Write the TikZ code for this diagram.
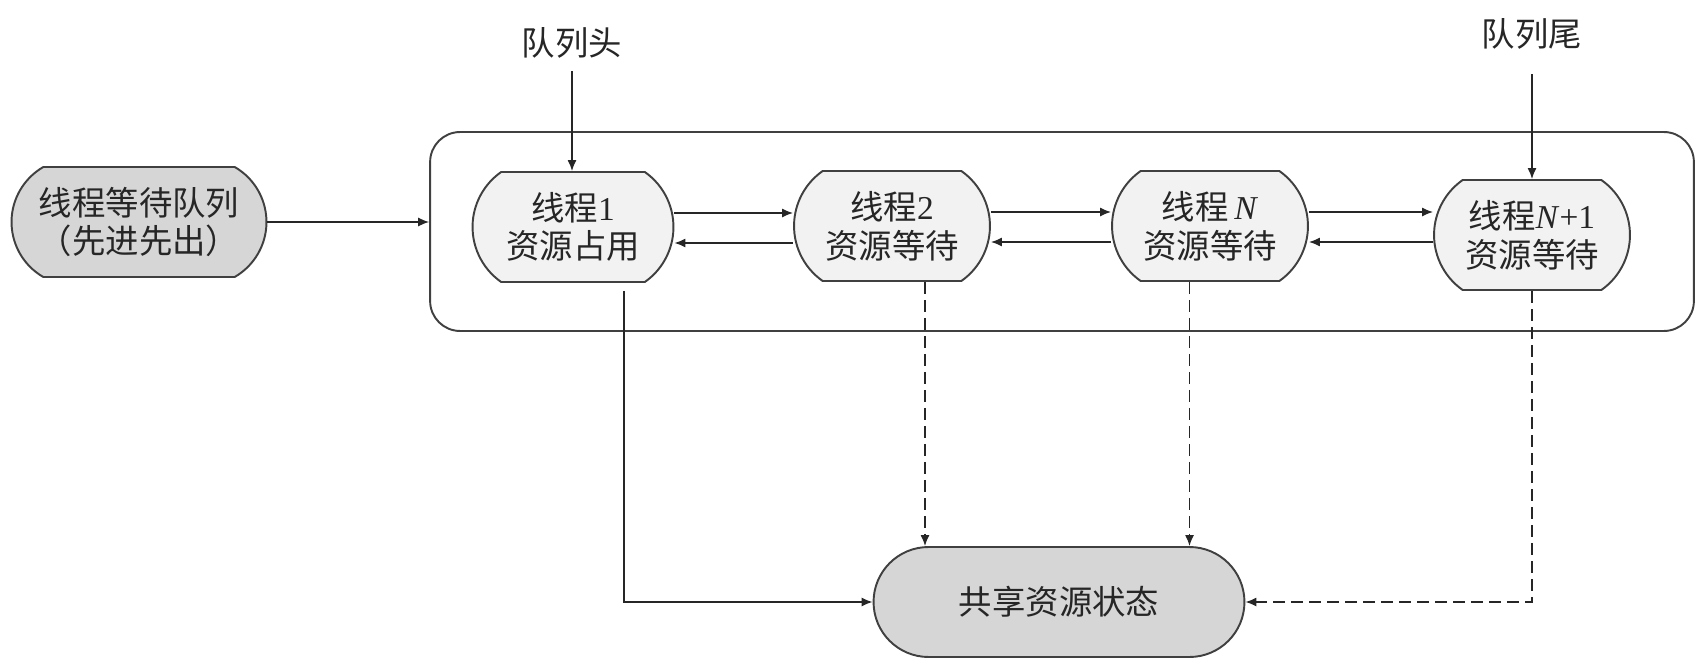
\documentclass[tikz,border=0pt]{standalone}
\usepackage{fontspec}
\setmainfont{Liberation Serif}
\newfontfamily\cjk{Noto Sans CJK SC}
\usetikzlibrary{positioning,arrows.meta,shapes.misc}
\newcommand{\lat}[1]{{\rmfamily #1}}
\tikzset{
  pill/.style={rounded rectangle,draw=black!75,fill=black!16,line width=1.1pt,
    align=center,inner sep=2pt,minimum height=2.2cm},
  thr/.style={rounded rectangle,rounded rectangle arc length=110,draw=black!75,fill=black!5,
    line width=1.1pt,align=center,inner sep=2pt,minimum width=4.06cm,minimum height=2.2cm},
  lbl/.style={inner sep=3pt},
  flow/.style={-{Latex[length=2.2mm,width=1.8mm]},line width=0.8pt,draw=black!85},
  dflow/.style={flow,dash pattern=on 2.4mm off 1.2mm},
}

\begin{document}
\begin{tikzpicture}[x=0.02cm,y=-0.02cm,
   font=\cjk\fontsize{19}{22}\selectfont,text=black!85]
  \useasboundingbox (0,0) rectangle (1701,669);
  \node[draw=black!75,line width=1.1pt,rounded corners=0.6cm,
    minimum width=25.28cm,minimum height=3.98cm] (box) at (1062,231.5) {};
  \node[pill,rounded rectangle arc length=120,minimum width=5.24cm] (wait) at (139,222) {线程等待队列\\（先进先出）};
  \node[thr,minimum width=4.16cm] (th1) at (573,227) {线程\lat{1}\\资源占用};
  \node[thr] (th2) at (892,226) {线程\lat{2}\\资源等待};
  \node[thr] (thn) at (1210,226) {线程\,\lat{\textit{N}}\\资源等待};
  \node[thr] (thn1) at (1532,235) {线程\lat{\textit{N}+1}\\资源等待};
  \node[pill,minimum width=7.56cm] (shared) at (1059,602) {共享资源状态};
  \node[lbl] (head) at (572,43) {队列头};
  \node[lbl] (tail) at (1532,34) {队列尾};
  % queue into the box
  \draw[flow] (wait.east) -- (wait.east -| box.west);
  \draw[flow,shorten <=0.14cm] (head.south) -- (head.south |- th1.north);
  \draw[flow,shorten <=0.38cm] (tail.south) -- (tail.south |- thn1.north);
  % forward / backward links
  \draw[flow] ([yshift=0.28cm]th1.east) -- ([yshift=0.28cm]th1.east -| th2.west);
  \draw[flow] ([yshift=0.28cm]th2.east) -- ([yshift=0.28cm]th2.east -| thn.west);
  \draw[flow] ([yshift=0.28cm]thn.east) -- ([yshift=0.28cm]thn.east -| thn1.west);
  \draw[flow] ([yshift=-0.32cm]th1.east -| th2.west) -- ([yshift=-0.32cm]th1.east);
  \draw[flow] ([yshift=-0.32cm]th2.east -| thn.west) -- ([yshift=-0.32cm]th2.east);
  \draw[flow] ([yshift=-0.32cm]thn.east -| thn1.west) -- ([yshift=-0.32cm]thn.east);
  % to the shared state
  \draw[flow] ([xshift=1.02cm,yshift=-0.16cm]th1.south) |- (shared.west);
  \draw[dflow] ([xshift=0.66cm]th2.south) -- ([xshift=0.66cm]th2.south |- shared.north);
  \draw[dflow] ([xshift=-0.41cm]thn.south) -- ([xshift=-0.41cm]thn.south |- shared.north);
  \draw[dflow] (thn1.south) |- (shared.east);
\end{tikzpicture}
\end{document}
